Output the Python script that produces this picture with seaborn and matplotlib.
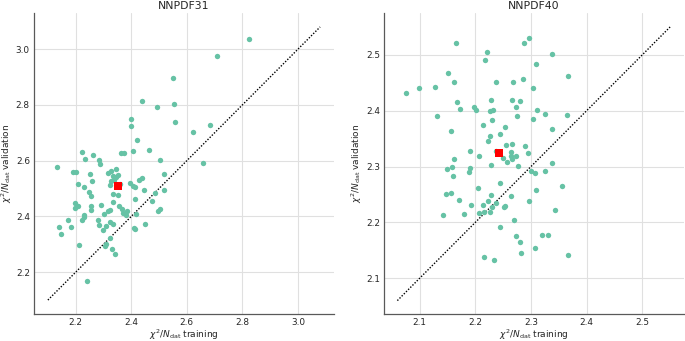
import matplotlib
matplotlib.use("Agg")
import matplotlib.pyplot as plt
import seaborn as sns
import pandas as pd

# ---------------- data ----------------
titles = ["NNPDF31", "NNPDF40"]

nnpdf31_train = [2.823, 2.710, 2.549, 2.438, 2.491, 2.553, 2.398, 2.400, 2.559, 2.684,
                 2.624, 2.421, 2.463, 2.407, 2.364, 2.373, 2.223, 2.232, 2.262, 2.283,
                 2.288, 2.505, 2.657, 2.133, 2.192, 2.201, 2.250, 2.260, 2.207, 2.231,
                 2.247, 2.256, 2.315, 2.327, 2.345, 2.333, 2.345, 2.354, 2.327, 2.338,
                 2.323, 2.360, 2.334, 2.353, 2.334, 2.396, 2.407, 2.415, 2.427, 2.437,
                 2.445, 2.414, 2.519, 2.519, 2.487, 2.476, 2.196, 2.207, 2.199, 2.255,
                 2.255, 2.290, 2.355, 2.366, 2.370, 2.381, 2.385, 2.316, 2.324, 2.303,
                 2.418, 2.498, 2.504, 2.229, 2.231, 2.224, 2.173, 2.141, 2.146, 2.183,
                 2.279, 2.284, 2.324, 2.333, 2.310, 2.300, 2.409, 2.414, 2.451, 2.323,
                 2.213, 2.309, 2.305, 2.331, 2.340, 2.241]
nnpdf31_valid = [3.037, 2.977, 2.897, 2.814, 2.792, 2.804, 2.750, 2.725, 2.739, 2.728,
                 2.703, 2.674, 2.640, 2.634, 2.629, 2.629, 2.631, 2.607, 2.621, 2.603,
                 2.588, 2.601, 2.591, 2.577, 2.558, 2.558, 2.551, 2.527, 2.518, 2.505,
                 2.489, 2.472, 2.556, 2.564, 2.570, 2.546, 2.543, 2.547, 2.529, 2.532,
                 2.513, 2.515, 2.479, 2.477, 2.452, 2.520, 2.508, 2.504, 2.532, 2.538,
                 2.496, 2.462, 2.553, 2.496, 2.484, 2.454, 2.448, 2.438, 2.431, 2.437,
                 2.423, 2.441, 2.438, 2.425, 2.412, 2.405, 2.421, 2.420, 2.424, 2.409,
                 2.409, 2.421, 2.425, 2.406, 2.399, 2.386, 2.386, 2.363, 2.337, 2.363,
                 2.386, 2.368, 2.380, 2.374, 2.367, 2.352, 2.357, 2.355, 2.374, 2.321,
                 2.296, 2.302, 2.295, 2.285, 2.266, 2.169]
nnpdf31_mean = [2.351, 2.508]

nnpdf40_train = [2.165, 2.221, 2.217, 2.288, 2.297, 2.337, 2.309, 2.367, 2.151, 2.162,
                 2.075, 2.098, 2.127, 2.238, 2.267, 2.286, 2.303, 2.168, 2.172, 2.131,
                 2.229, 2.266, 2.281, 2.197, 2.201, 2.227, 2.232, 2.274, 2.275, 2.311,
                 2.304, 2.325, 2.364, 2.230, 2.214, 2.253, 2.337, 2.157, 2.245, 2.226,
                 2.222, 2.266, 2.256, 2.290, 2.238, 2.264, 2.265, 2.249, 2.257, 2.266,
                 2.273, 2.294, 2.207, 2.190, 2.161, 2.158, 2.191, 2.229, 2.277, 2.337,
                 2.149, 2.188, 2.300, 2.308, 2.325, 2.160, 2.205, 2.245, 2.147, 2.157,
                 2.171, 2.193, 2.142, 2.179, 2.207, 2.216, 2.226, 2.214, 2.222, 2.229,
                 2.230, 2.238, 2.251, 2.254, 2.264, 2.297, 2.309, 2.356, 2.343, 2.269,
                 2.245, 2.274, 2.281, 2.283, 2.307, 2.319, 2.330, 2.215, 2.233, 2.367]
nnpdf40_valid = [2.521, 2.505, 2.490, 2.521, 2.531, 2.502, 2.484, 2.462, 2.467, 2.451,
                 2.431, 2.440, 2.443, 2.451, 2.451, 2.456, 2.440, 2.416, 2.403, 2.391,
                 2.420, 2.420, 2.417, 2.407, 2.402, 2.399, 2.401, 2.406, 2.390, 2.401,
                 2.386, 2.395, 2.393, 2.383, 2.375, 2.371, 2.368, 2.364, 2.358, 2.355,
                 2.346, 2.341, 2.338, 2.337, 2.328, 2.326, 2.319, 2.316, 2.308, 2.314,
                 2.319, 2.324, 2.319, 2.328, 2.313, 2.300, 2.298, 2.302, 2.301, 2.307,
                 2.295, 2.291, 2.292, 2.288, 2.292, 2.284, 2.261, 2.271, 2.251, 2.253,
                 2.241, 2.231, 2.213, 2.215, 2.217, 2.218, 2.219, 2.232, 2.239, 2.249,
                 2.227, 2.234, 2.228, 2.229, 2.247, 2.239, 2.258, 2.265, 2.222, 2.205,
                 2.192, 2.176, 2.165, 2.146, 2.155, 2.178, 2.178, 2.138, 2.133, 2.142]
nnpdf40_mean = [2.243, 2.325]

diag31 = [2.10, 3.08]
diag40 = [2.06, 2.55]
lims31 = [2.05, 3.13]
lims40 = [2.036, 2.575]
ticks31 = [2.2, 2.4, 2.6, 2.8, 3.0]
ticks40 = [2.1, 2.2, 2.3, 2.4, 2.5]

xlabel = r"$\chi^2/N_{\mathrm{dat}}$ training"
ylabel = r"$\chi^2/N_{\mathrm{dat}}$ validation"

# ---------------- style ----------------
sns.set_theme(style="whitegrid")
plt.rcParams.update({
    "font.family": ["DejaVu Sans"],
    "axes.edgecolor": "0.35",
    "axes.linewidth": 0.9,
    "grid.color": "0.88",
    "grid.linewidth": 0.8,
    "xtick.labelsize": 6.4,
    "ytick.labelsize": 6.4,
    "axes.labelsize": 6.5,
    "axes.titlesize": 7.8,
    "text.color": "0.15",
    "xtick.color": "0.15",
    "ytick.color": "0.15",
})

green = "#66c2a5"

fig = plt.figure(figsize=(6.85, 3.41), dpi=100)
ax1 = fig.add_axes([34 / 685, 27 / 341, 300 / 685, 301 / 341])
ax2 = fig.add_axes([384 / 685, 27 / 341, 300 / 685, 301 / 341])

panels = [
    (ax1, titles[0], nnpdf31_train, nnpdf31_valid, nnpdf31_mean, diag31, lims31, ticks31),
    (ax2, titles[1], nnpdf40_train, nnpdf40_valid, nnpdf40_mean, diag40, lims40, ticks40),
]

for ax, title, xt, yv, mean, diag, lims, ticks in panels:
    df = pd.DataFrame({"train": xt, "valid": yv})
    sns.scatterplot(data=df, x="train", y="valid", ax=ax, color=green,
                    s=15, linewidth=0, zorder=3)
    ax.plot(diag, diag, ls=(0, (1, 1.2)), color="black", lw=1.0, zorder=2)
    ax.scatter([mean[0]], [mean[1]], marker="s", color="red", s=28,
               linewidth=0, zorder=4)
    ax.set_xlim(lims)
    ax.set_ylim(lims)
    ax.set_xticks(ticks)
    ax.set_yticks(ticks)
    ax.set_title(title, pad=3)
    ax.set_xlabel(xlabel, labelpad=0)
    ax.set_ylabel(ylabel, labelpad=1)
    ax.tick_params(length=2.2, width=0.7, color="0.35", pad=0.8)
    sns.despine(ax=ax)

fig.savefig("out.png", dpi=100)
